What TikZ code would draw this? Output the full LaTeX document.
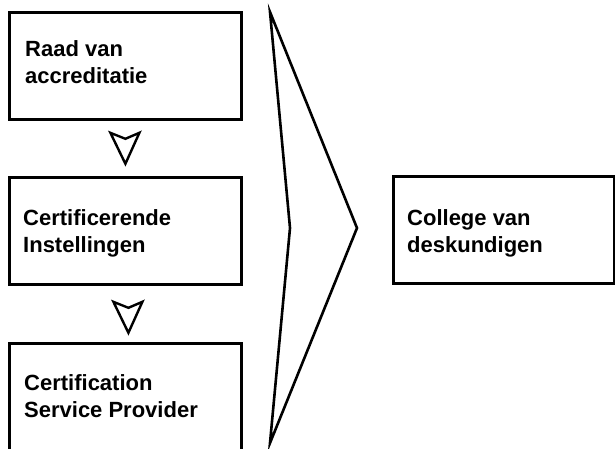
\documentclass[tikz,border=0pt]{standalone}
\usepackage{fontspec}
\setmainfont{Liberation Sans}
\begin{document}
\begin{tikzpicture}[x=1pt,y=-1pt,
  box/.style={draw=black,line width=2.8pt,rectangle,inner xsep=0pt,inner ysep=0pt,
    minimum width=232pt,minimum height=107pt,anchor=north west},
  lbl/.style={anchor=north west,align=left,inner sep=0pt,font=\fontsize{22}{27}\selectfont\bfseries},
  dart/.style={draw=black,line width=2.4pt,line join=miter,fill=white},
  chev/.style={draw=black,line width=2.6pt,line join=miter}]
\useasboundingbox (0,0) rectangle (615,448);
\node[box] (b1) at (8,11) {};
\node[box] (b2) at (8,176) {};
\node[box] (b3) at (8,342) {};
\node[box,minimum width=221pt] (b4) at (392,175) {};
\node[lbl] (t1) at (25,40) {Raad van\\accreditatie};
\node[lbl] (t2) at (23,209) {Certificerende\\Instellingen};
\node[lbl] (t3) at (24,374) {Certification\\Service Provider};
\node[lbl] (t4) at (407,209) {College van\\deskundigen};
% darts between boxes
\coordinate (a1) at ([yshift=-12pt]b1.south);
\coordinate (a2) at ([xshift=3pt,yshift=-16pt]b2.south);
\foreach \a in {a1,a2} {
  \draw[dart] ([xshift=-15pt]\a) -- ([yshift=-6pt]\a) -- ([xshift=14pt]\a) -- ([yshift=-31pt]\a) -- cycle;
}
% chevron
\coordinate (c1) at (270,12);
\coordinate (c2) at (357,228);
\coordinate (c3) at (270,443);
\coordinate (c4) at (290,228);
\draw[chev] (c1) -- (c2) -- (c3) -- (c4) -- cycle;
\end{tikzpicture}
\end{document}
